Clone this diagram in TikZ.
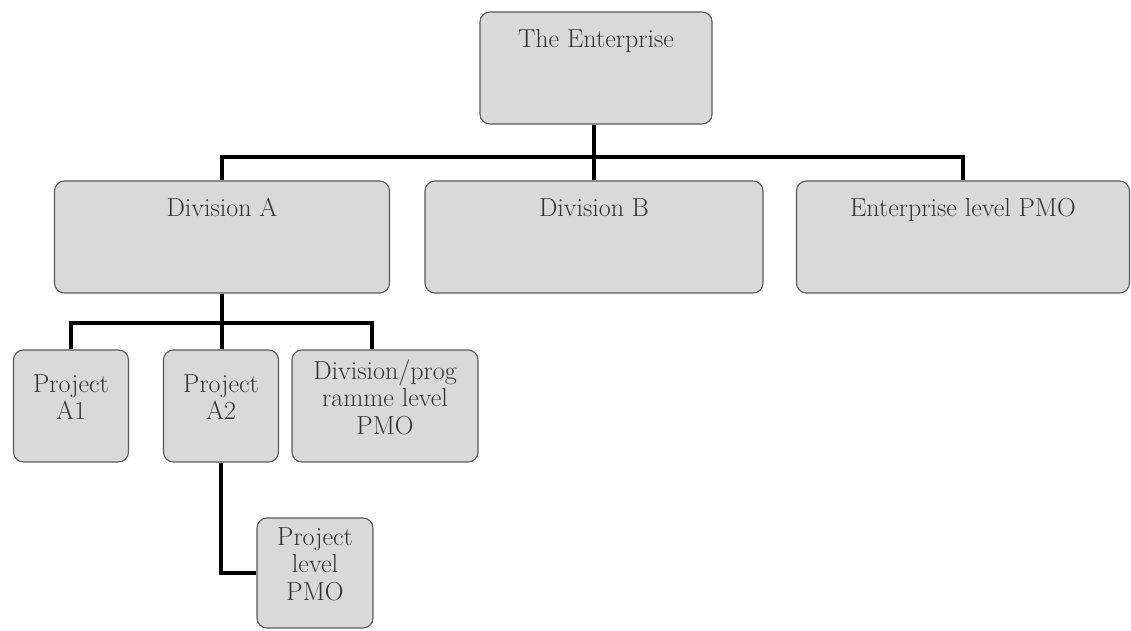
\documentclass[tikz,border=0pt]{standalone}
\usepackage{tikz}

\begin{document}
\begin{tikzpicture}[
            x=0.025cm, y=-0.025cm,
            unit/.style={draw=black!65, line width=0.8pt, fill=black!15, rounded corners=0.25cm,
                text=black!80, font=\fontsize{18.5}{19.5}\selectfont, align=center, inner sep=0pt},
            bigunit/.style={unit, text height=0.9cm, text depth=1.9cm, minimum height=2.8cm},
            smallunit/.style={unit, text depth=0.45cm, minimum height=2.8cm},
            every path/.style={line width=2.5pt}
            ]
            \useasboundingbox (0,0) rectangle (1131,631);
            % top level
            \node[bigunit, minimum width=5.8cm] (ent) at (596, 68) {The Enterprise};
            \node[bigunit, minimum width=8.375cm] (divA) at (222, 237) {Division A};
            \node[bigunit, minimum width=8.45cm] (divB) at (594, 237) {Division B};
            \node[bigunit, minimum width=8.325cm] (pmo) at (963, 237) {Enterprise level PMO};
            % below division A
            \node[smallunit, minimum width=2.875cm] (pA1) at (71, 406) {Project\\A1};
            \node[smallunit, minimum width=2.875cm] (pA2) at (221, 406) {Project\\A2};
            \node[smallunit, minimum width=4.65cm] (dpmo) at (385, 406) {Division/prog\\ramme level\\PMO};
            \node[smallunit, minimum width=2.9cm, minimum height=2.75cm] (ppmo) at (315, 573) {Project\\level\\PMO};
            \coordinate (bar) at (594, 157);
            \coordinate (subbar) at (222, 323);
            \draw (ent.south -| bar) -- (bar);
            \draw (divA.north) |- (bar) -| (pmo.north);
            \draw (bar) -- (divB.north -| bar);
            \draw (pA1.north) |- (subbar) -| ([xshift=-0.325cm]dpmo.north);
            \draw (divA.south) -- (pA2.north -| divA.south);
            \draw (pA2.south) |- (ppmo.west);
        \end{tikzpicture}
\end{document}
